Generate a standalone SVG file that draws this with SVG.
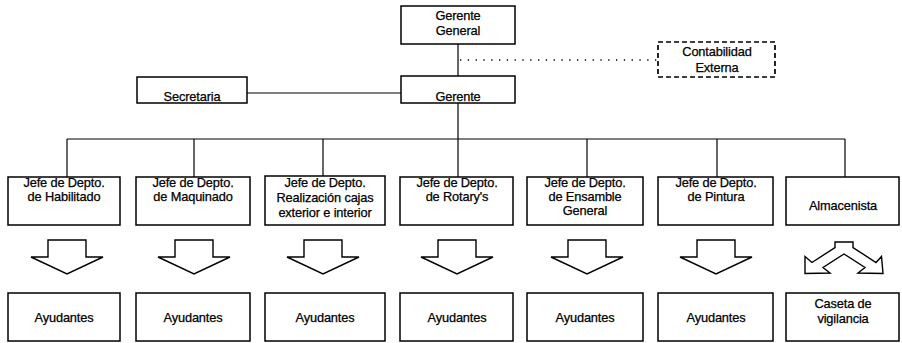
<svg xmlns="http://www.w3.org/2000/svg" xmlns:xlink="http://www.w3.org/1999/xlink" width="902" height="343" viewBox="0 0 902 343">
<style>
.box{fill:#fff;stroke:#000;stroke-width:1.5}
.dash{fill:#fff;stroke:#000;stroke-width:1.7;stroke-dasharray:5,3}
.ln{fill:none;stroke:#000;stroke-width:1.2}
.dot{fill:none;stroke:#000;stroke-width:1.3;stroke-dasharray:1.3,6.5}
.arr{fill:#fff;stroke:#000;stroke-width:1.4;stroke-linejoin:miter}
text{font-family:"Liberation Sans",Arial,sans-serif;font-size:12.8px;fill:#000;stroke:#000;stroke-width:0.25;text-anchor:middle;letter-spacing:-0.15px}
</style>
<defs>
<path id="down" class="arr" d="M-19,240 H19 V257 H36 L0,274 L-36,257 H-19 Z"/>
</defs>
<rect width="902" height="343" fill="#fff"/>
<g id="connectors">
<line class="ln" x1="458" y1="44" x2="458" y2="76"/>
<line class="dot" x1="460" y1="60" x2="658" y2="60"/>
<line class="ln" x1="247" y1="93" x2="401" y2="93"/>
<line class="ln" x1="458" y1="103" x2="458" y2="139"/>
<line class="ln" x1="67" y1="139" x2="845" y2="139"/>
<line class="ln" x1="67" y1="139" x2="67" y2="177"/>
<line class="ln" x1="194" y1="139" x2="194" y2="177"/>
<line class="ln" x1="323" y1="139" x2="323" y2="176"/>
<line class="ln" x1="458" y1="139" x2="458" y2="177"/>
<line class="ln" x1="587" y1="139" x2="587" y2="177"/>
<line class="ln" x1="717" y1="139" x2="717" y2="177"/>
<line class="ln" x1="845" y1="139" x2="845" y2="177"/>
<use xlink:href="#down" x="67"/>
<use xlink:href="#down" x="194"/>
<use xlink:href="#down" x="323"/>
<use xlink:href="#down" x="457"/>
<use xlink:href="#down" x="587"/>
<use xlink:href="#down" x="716"/>
<path class="arr" d="M835,242 H853 V247.5 L876,262.5 L881.5,256.5 L883,273.5 L858,273 L865,267.5 L844,254 L823,267.5 L830,273 L805,273.5 L805,256.5 L812,262.5 L835,247.5 Z"/>
</g>
<g id="gerente-general">
<rect class="box" x="401" y="6" width="114" height="38"/>
<text x="458" y="20">Gerente</text>
<text x="458" y="35">General</text>
</g>
<g id="contabilidad">
<rect class="dash" x="658" y="42" width="117" height="35"/>
<text x="717" y="56">Contabilidad</text>
<text x="717" y="72">Externa</text>
</g>
<g id="secretaria">
<rect class="box" x="137" y="77" width="110" height="26"/>
<text x="192" y="101">Secretaria</text>
</g>
<g id="gerente">
<rect class="box" x="401" y="76" width="114" height="27"/>
<text x="458" y="101">Gerente</text>
</g>
<g id="jefe-habilitado">
<rect class="box" x="8" y="177" width="112" height="48"/>
<text x="64" y="187">Jefe de Depto.</text>
<text x="64" y="201">de Habilitado</text>
</g>
<g id="jefe-maquinado">
<rect class="box" x="136" y="177" width="114" height="48"/>
<text x="193" y="187">Jefe de Depto.</text>
<text x="193" y="201">de Maquinado</text>
</g>
<g id="jefe-cajas">
<rect class="box" x="265" y="176" width="120" height="49"/>
<text x="325" y="187">Jefe de Depto.</text>
<text x="325" y="202">Realización cajas</text>
<text x="325" y="217">exterior e interior</text>
</g>
<g id="jefe-rotarys">
<rect class="box" x="400" y="177" width="113" height="48"/>
<text x="457" y="187">Jefe de Depto.</text>
<text x="457" y="201">de Rotary's</text>
</g>
<g id="jefe-ensamble">
<rect class="box" x="527" y="177" width="116" height="48"/>
<text x="585" y="187">Jefe de Depto.</text>
<text x="585" y="201">de Ensamble</text>
<text x="585" y="215">General</text>
</g>
<g id="jefe-pintura">
<rect class="box" x="658" y="177" width="115" height="48"/>
<text x="716" y="187">Jefe de Depto.</text>
<text x="716" y="201">de Pintura</text>
</g>
<g id="almacenista">
<rect class="box" x="786" y="177" width="113" height="48"/>
<text x="843" y="210">Almacenista</text>
</g>
<g id="ayudantes-1">
<rect class="box" x="8" y="293" width="112" height="48"/>
<text x="64" y="322">Ayudantes</text>
</g>
<g id="ayudantes-2">
<rect class="box" x="136" y="293" width="114" height="48"/>
<text x="193" y="322">Ayudantes</text>
</g>
<g id="ayudantes-3">
<rect class="box" x="265" y="293" width="120" height="48"/>
<text x="325" y="322">Ayudantes</text>
</g>
<g id="ayudantes-4">
<rect class="box" x="400" y="293" width="113" height="48"/>
<text x="457" y="322">Ayudantes</text>
</g>
<g id="ayudantes-5">
<rect class="box" x="527" y="293" width="116" height="48"/>
<text x="585" y="322">Ayudantes</text>
</g>
<g id="ayudantes-6">
<rect class="box" x="658" y="293" width="115" height="48"/>
<text x="716" y="322">Ayudantes</text>
</g>
<g id="caseta">
<rect class="box" x="786" y="293" width="113" height="48"/>
<text x="843" y="308">Caseta de</text>
<text x="843" y="323">vigilancia</text>
</g>
</svg>
